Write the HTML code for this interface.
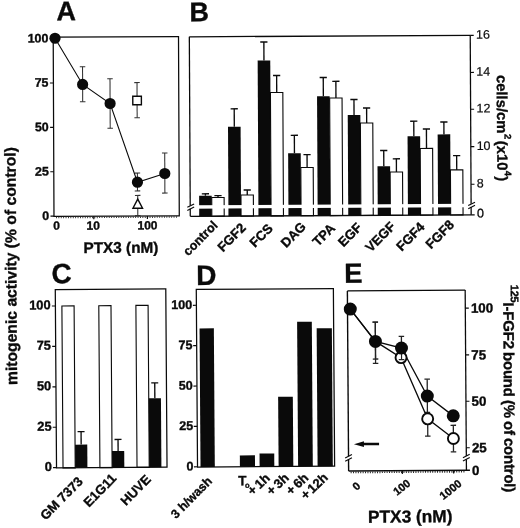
<!DOCTYPE html>
<html><head><meta charset="utf-8"><title>Figure</title>
<style>html,body{margin:0;padding:0;background:#fff;}svg{display:block;}text{font-family:"Liberation Sans",sans-serif;fill:#0a0a0a;}</style>
</head><body>
<svg width="520" height="528" viewBox="0 0 520 528" style="filter:blur(0.3px)">
<rect x="0" y="0" width="520" height="528" fill="#fff"/>
<g transform="translate(0.4 -0.3) rotate(-0.25 115 127)">
<rect x="53.2" y="37.1" width="125.3" height="179.3" fill="none" stroke="#0a0a0a" stroke-width="1.25"/>
<line x1="49.70" y1="216.20" x2="53.20" y2="216.20" stroke="#0a0a0a" stroke-width="1.17"/>
<text x="48.30" y="220.00" font-size="12.4" font-weight="bold" text-anchor="end" stroke="#0a0a0a" stroke-width="0.35">0</text>
<line x1="49.70" y1="171.80" x2="53.20" y2="171.80" stroke="#0a0a0a" stroke-width="1.17"/>
<text x="48.30" y="175.60" font-size="12.4" font-weight="bold" text-anchor="end" stroke="#0a0a0a" stroke-width="0.35">25</text>
<line x1="49.70" y1="127.40" x2="53.20" y2="127.40" stroke="#0a0a0a" stroke-width="1.17"/>
<text x="48.30" y="131.20" font-size="12.4" font-weight="bold" text-anchor="end" stroke="#0a0a0a" stroke-width="0.35">50</text>
<line x1="49.70" y1="83.00" x2="53.20" y2="83.00" stroke="#0a0a0a" stroke-width="1.17"/>
<text x="48.30" y="86.80" font-size="12.4" font-weight="bold" text-anchor="end" stroke="#0a0a0a" stroke-width="0.35">75</text>
<line x1="49.70" y1="38.60" x2="53.20" y2="38.60" stroke="#0a0a0a" stroke-width="1.17"/>
<text x="48.30" y="42.40" font-size="12.4" font-weight="bold" text-anchor="end" stroke="#0a0a0a" stroke-width="0.35">100</text>
<line x1="55.2" y1="217.6" x2="177.5" y2="217.6" stroke="#2a2a2a" stroke-width="1.5" stroke-dasharray="0.9 1.5"/>
<line x1="93.00" y1="216.40" x2="93.00" y2="219.40" stroke="#0a0a0a" stroke-width="1.17"/>
<line x1="146.60" y1="216.40" x2="146.60" y2="219.40" stroke="#0a0a0a" stroke-width="1.17"/>
<text x="55.80" y="229.90" font-size="12" font-weight="bold" text-anchor="middle" stroke="#0a0a0a" stroke-width="0.35">0</text>
<text x="92.30" y="229.90" font-size="12" font-weight="bold" text-anchor="middle" stroke="#0a0a0a" stroke-width="0.35">10</text>
<text x="146.70" y="229.90" font-size="12" font-weight="bold" text-anchor="middle" stroke="#0a0a0a" stroke-width="0.35">100</text>
<text x="120.00" y="253.10" font-size="15.3" font-weight="bold" text-anchor="middle" stroke="#0a0a0a" stroke-width="0.35">PTX3 (nM)</text>
<line x1="82.40" y1="66.90" x2="82.40" y2="101.90" stroke="#333" stroke-width="1.06"/>
<line x1="79.65" y1="66.90" x2="85.15" y2="66.90" stroke="#333" stroke-width="1.06"/>
<line x1="79.65" y1="101.90" x2="85.15" y2="101.90" stroke="#333" stroke-width="1.06"/>
<line x1="109.80" y1="79.00" x2="109.80" y2="128.60" stroke="#333" stroke-width="1.06"/>
<line x1="107.05" y1="79.00" x2="112.55" y2="79.00" stroke="#333" stroke-width="1.06"/>
<line x1="107.05" y1="128.60" x2="112.55" y2="128.60" stroke="#333" stroke-width="1.06"/>
<line x1="136.80" y1="173.50" x2="136.80" y2="191.30" stroke="#333" stroke-width="1.06"/>
<line x1="134.05" y1="173.50" x2="139.55" y2="173.50" stroke="#333" stroke-width="1.06"/>
<line x1="134.05" y1="191.30" x2="139.55" y2="191.30" stroke="#333" stroke-width="1.06"/>
<line x1="164.20" y1="153.50" x2="164.20" y2="193.60" stroke="#333" stroke-width="1.06"/>
<line x1="161.45" y1="153.50" x2="166.95" y2="153.50" stroke="#333" stroke-width="1.06"/>
<line x1="161.45" y1="193.60" x2="166.95" y2="193.60" stroke="#333" stroke-width="1.06"/>
<line x1="136.80" y1="83.00" x2="136.80" y2="118.20" stroke="#333" stroke-width="1.06"/>
<line x1="134.05" y1="83.00" x2="139.55" y2="83.00" stroke="#333" stroke-width="1.06"/>
<line x1="134.05" y1="118.20" x2="139.55" y2="118.20" stroke="#333" stroke-width="1.06"/>
<line x1="137.00" y1="195.80" x2="137.00" y2="216.00" stroke="#333" stroke-width="1.06"/>
<line x1="134.25" y1="195.80" x2="139.75" y2="195.80" stroke="#333" stroke-width="1.06"/>
<line x1="134.25" y1="216.00" x2="139.75" y2="216.00" stroke="#333" stroke-width="1.06"/>
<polyline points="55.00,38.30 82.40,84.60 109.80,103.80 136.80,182.60 164.20,174.00" fill="none" stroke="#0a0a0a" stroke-width="1.1"/>
<circle cx="55.00" cy="38.30" r="5.6" fill="#0a0a0a"/>
<circle cx="82.40" cy="84.60" r="5.6" fill="#0a0a0a"/>
<circle cx="109.80" cy="103.80" r="5.6" fill="#0a0a0a"/>
<circle cx="136.80" cy="182.60" r="5.6" fill="#0a0a0a"/>
<circle cx="164.20" cy="174.00" r="5.6" fill="#0a0a0a"/>
<rect x="132.5" y="96.60000000000001" width="8.6" height="8.6" fill="#fff" stroke="#0a0a0a" stroke-width="1.4"/>
<polygon points="137.0,199.5 132.2,208.6 141.8,208.6" fill="#fff" stroke="#0a0a0a" stroke-width="1.4" stroke-linejoin="miter"/>
<text x="56.50" y="20.40" font-size="27" font-weight="bold" text-anchor="start" stroke="#0a0a0a" stroke-width="0.35">A</text>
</g>
<g transform="rotate(-0.3 330 126)">
<line x1="205.05" y1="193.14" x2="205.05" y2="195.14" stroke="#0a0a0a" stroke-width="1.34"/>
<line x1="201.45" y1="193.14" x2="208.65" y2="193.14" stroke="#0a0a0a" stroke-width="1.34"/>
<rect x="198.75" y="195.14" width="12.60" height="20.46" fill="#0a0a0a"/>
<line x1="217.65" y1="195.01" x2="217.65" y2="196.91" stroke="#0a0a0a" stroke-width="1.34"/>
<line x1="214.05" y1="195.01" x2="221.25" y2="195.01" stroke="#0a0a0a" stroke-width="1.34"/>
<rect x="211.35" y="196.91" width="12.40" height="18.69" fill="#fff" stroke="#0a0a0a" stroke-width="1.12"/>
<line x1="234.30" y1="108.30" x2="234.30" y2="126.30" stroke="#0a0a0a" stroke-width="1.34"/>
<line x1="230.70" y1="108.30" x2="237.90" y2="108.30" stroke="#0a0a0a" stroke-width="1.34"/>
<rect x="228.00" y="126.30" width="12.60" height="89.30" fill="#0a0a0a"/>
<line x1="246.90" y1="189.57" x2="246.90" y2="194.57" stroke="#0a0a0a" stroke-width="1.34"/>
<line x1="243.30" y1="189.57" x2="250.50" y2="189.57" stroke="#0a0a0a" stroke-width="1.34"/>
<rect x="240.60" y="194.57" width="12.40" height="21.03" fill="#fff" stroke="#0a0a0a" stroke-width="1.12"/>
<line x1="264.30" y1="41.65" x2="264.30" y2="60.15" stroke="#0a0a0a" stroke-width="1.34"/>
<line x1="260.70" y1="41.65" x2="267.90" y2="41.65" stroke="#0a0a0a" stroke-width="1.34"/>
<rect x="258.00" y="60.15" width="12.60" height="155.45" fill="#0a0a0a"/>
<line x1="276.90" y1="75.22" x2="276.90" y2="92.22" stroke="#0a0a0a" stroke-width="1.34"/>
<line x1="273.30" y1="75.22" x2="280.50" y2="75.22" stroke="#0a0a0a" stroke-width="1.34"/>
<rect x="270.60" y="92.22" width="12.40" height="123.38" fill="#fff" stroke="#0a0a0a" stroke-width="1.12"/>
<line x1="294.30" y1="135.11" x2="294.30" y2="153.11" stroke="#0a0a0a" stroke-width="1.34"/>
<line x1="290.70" y1="135.11" x2="297.90" y2="135.11" stroke="#0a0a0a" stroke-width="1.34"/>
<rect x="288.00" y="153.11" width="12.60" height="62.49" fill="#0a0a0a"/>
<line x1="306.90" y1="154.48" x2="306.90" y2="167.38" stroke="#0a0a0a" stroke-width="1.34"/>
<line x1="303.30" y1="154.48" x2="310.50" y2="154.48" stroke="#0a0a0a" stroke-width="1.34"/>
<rect x="300.60" y="167.38" width="12.40" height="48.22" fill="#fff" stroke="#0a0a0a" stroke-width="1.12"/>
<line x1="323.50" y1="77.46" x2="323.50" y2="96.26" stroke="#0a0a0a" stroke-width="1.34"/>
<line x1="319.90" y1="77.46" x2="327.10" y2="77.46" stroke="#0a0a0a" stroke-width="1.34"/>
<rect x="317.20" y="96.26" width="12.60" height="119.34" fill="#0a0a0a"/>
<line x1="336.10" y1="81.33" x2="336.10" y2="98.03" stroke="#0a0a0a" stroke-width="1.34"/>
<line x1="332.50" y1="81.33" x2="339.70" y2="81.33" stroke="#0a0a0a" stroke-width="1.34"/>
<rect x="329.80" y="98.03" width="12.40" height="117.57" fill="#fff" stroke="#0a0a0a" stroke-width="1.12"/>
<line x1="354.10" y1="99.62" x2="354.10" y2="115.12" stroke="#0a0a0a" stroke-width="1.34"/>
<line x1="350.50" y1="99.62" x2="357.70" y2="99.62" stroke="#0a0a0a" stroke-width="1.34"/>
<rect x="347.80" y="115.12" width="12.60" height="100.48" fill="#0a0a0a"/>
<line x1="366.70" y1="108.19" x2="366.70" y2="123.19" stroke="#0a0a0a" stroke-width="1.34"/>
<line x1="363.10" y1="108.19" x2="370.30" y2="108.19" stroke="#0a0a0a" stroke-width="1.34"/>
<rect x="360.40" y="123.19" width="12.40" height="92.41" fill="#fff" stroke="#0a0a0a" stroke-width="1.12"/>
<line x1="383.60" y1="150.78" x2="383.60" y2="166.58" stroke="#0a0a0a" stroke-width="1.34"/>
<line x1="380.00" y1="150.78" x2="387.20" y2="150.78" stroke="#0a0a0a" stroke-width="1.34"/>
<rect x="377.30" y="166.58" width="12.60" height="49.02" fill="#0a0a0a"/>
<line x1="396.20" y1="159.15" x2="396.20" y2="172.35" stroke="#0a0a0a" stroke-width="1.34"/>
<line x1="392.60" y1="159.15" x2="399.80" y2="159.15" stroke="#0a0a0a" stroke-width="1.34"/>
<rect x="389.90" y="172.35" width="12.40" height="43.25" fill="#fff" stroke="#0a0a0a" stroke-width="1.12"/>
<line x1="413.80" y1="121.64" x2="413.80" y2="136.64" stroke="#0a0a0a" stroke-width="1.34"/>
<line x1="410.20" y1="121.64" x2="417.40" y2="121.64" stroke="#0a0a0a" stroke-width="1.34"/>
<rect x="407.50" y="136.64" width="12.60" height="78.96" fill="#0a0a0a"/>
<line x1="426.40" y1="129.51" x2="426.40" y2="148.91" stroke="#0a0a0a" stroke-width="1.34"/>
<line x1="422.80" y1="129.51" x2="430.00" y2="129.51" stroke="#0a0a0a" stroke-width="1.34"/>
<rect x="420.10" y="148.91" width="12.40" height="66.69" fill="#fff" stroke="#0a0a0a" stroke-width="1.12"/>
<line x1="443.90" y1="122.59" x2="443.90" y2="134.99" stroke="#0a0a0a" stroke-width="1.34"/>
<line x1="440.30" y1="122.59" x2="447.50" y2="122.59" stroke="#0a0a0a" stroke-width="1.34"/>
<rect x="437.60" y="134.99" width="12.60" height="80.61" fill="#0a0a0a"/>
<line x1="456.50" y1="156.26" x2="456.50" y2="170.56" stroke="#0a0a0a" stroke-width="1.34"/>
<line x1="452.90" y1="156.26" x2="460.10" y2="156.26" stroke="#0a0a0a" stroke-width="1.34"/>
<rect x="450.20" y="170.56" width="12.40" height="45.04" fill="#fff" stroke="#0a0a0a" stroke-width="1.12"/>
<rect x="191.30" y="204.50" width="278.40" height="3.40" fill="#fff"/>
<line x1="189.80" y1="36.10" x2="189.80" y2="215.60" stroke="#0a0a0a" stroke-width="1.28"/>
<line x1="189.80" y1="36.10" x2="470.70" y2="36.10" stroke="#0a0a0a" stroke-width="1.28"/>
<line x1="470.70" y1="36.10" x2="470.70" y2="215.60" stroke="#0a0a0a" stroke-width="1.28"/>
<line x1="189.80" y1="215.60" x2="474.20" y2="215.60" stroke="#0a0a0a" stroke-width="1.39"/>
<rect x="188.80" y="204.90" width="3.00" height="3.20" fill="#fff"/>
<line x1="186.90" y1="206.60" x2="193.70" y2="203.20" stroke="#0a0a0a" stroke-width="1.11"/>
<line x1="186.90" y1="209.80" x2="193.70" y2="206.40" stroke="#0a0a0a" stroke-width="1.11"/>
<rect x="469.70" y="204.60" width="3.00" height="3.20" fill="#fff"/>
<line x1="467.80" y1="206.30" x2="474.60" y2="202.90" stroke="#0a0a0a" stroke-width="1.11"/>
<line x1="467.80" y1="209.50" x2="474.60" y2="206.10" stroke="#0a0a0a" stroke-width="1.11"/>
<line x1="470.70" y1="36.10" x2="474.20" y2="36.10" stroke="#0a0a0a" stroke-width="1.17"/>
<text x="476.50" y="39.50" font-size="12.5" font-weight="normal" text-anchor="start" stroke="#0a0a0a" stroke-width="0.2">16</text>
<line x1="470.70" y1="73.20" x2="474.20" y2="73.20" stroke="#0a0a0a" stroke-width="1.17"/>
<text x="476.50" y="76.60" font-size="12.5" font-weight="normal" text-anchor="start" stroke="#0a0a0a" stroke-width="0.2">14</text>
<line x1="470.70" y1="110.00" x2="474.20" y2="110.00" stroke="#0a0a0a" stroke-width="1.17"/>
<text x="476.50" y="113.40" font-size="12.5" font-weight="normal" text-anchor="start" stroke="#0a0a0a" stroke-width="0.2">12</text>
<line x1="470.70" y1="147.30" x2="474.20" y2="147.30" stroke="#0a0a0a" stroke-width="1.17"/>
<text x="476.50" y="150.70" font-size="12.5" font-weight="normal" text-anchor="start" stroke="#0a0a0a" stroke-width="0.2">10</text>
<line x1="470.70" y1="185.00" x2="474.20" y2="185.00" stroke="#0a0a0a" stroke-width="1.17"/>
<text x="476.50" y="188.40" font-size="12.5" font-weight="normal" text-anchor="start" stroke="#0a0a0a" stroke-width="0.2">8</text>
<text x="476.50" y="218.40" font-size="12.5" font-weight="normal" text-anchor="start" stroke="#0a0a0a" stroke-width="0.3">0</text>
<text x="217.85" y="225.50" font-size="12.6" font-weight="bold" text-anchor="end" transform="rotate(-45 217.85 225.50)" stroke="#0a0a0a" stroke-width="0.35">control</text>
<text x="246.10" y="228.00" font-size="13.2" font-weight="bold" text-anchor="end" transform="rotate(-45 246.10 228.00)" stroke="#0a0a0a" stroke-width="0.35">FGF2</text>
<text x="273.10" y="229.00" font-size="13.2" font-weight="bold" text-anchor="end" transform="rotate(-45 273.10 229.00)" stroke="#0a0a0a" stroke-width="0.35">FCS</text>
<text x="306.30" y="227.30" font-size="13.2" font-weight="bold" text-anchor="end" transform="rotate(-45 306.30 227.30)" stroke="#0a0a0a" stroke-width="0.35">DAG</text>
<text x="335.30" y="229.00" font-size="13.2" font-weight="bold" text-anchor="end" transform="rotate(-45 335.30 229.00)" stroke="#0a0a0a" stroke-width="0.35">TPA</text>
<text x="362.10" y="228.50" font-size="13.2" font-weight="bold" text-anchor="end" transform="rotate(-45 362.10 228.50)" stroke="#0a0a0a" stroke-width="0.35">EGF</text>
<text x="395.60" y="227.50" font-size="13.2" font-weight="bold" text-anchor="end" transform="rotate(-45 395.60 227.50)" stroke="#0a0a0a" stroke-width="0.35">VEGF</text>
<text x="425.00" y="228.30" font-size="13.2" font-weight="bold" text-anchor="end" transform="rotate(-45 425.00 228.30)" stroke="#0a0a0a" stroke-width="0.35">FGF4</text>
<text x="454.30" y="226.30" font-size="13.2" font-weight="bold" text-anchor="end" transform="rotate(-45 454.30 226.30)" stroke="#0a0a0a" stroke-width="0.35">FGF8</text>
<text transform="translate(497.0 75.9) rotate(90)" font-size="14.8" font-weight="bold" stroke="#0a0a0a" stroke-width="0.35">cells/cm<tspan font-size="9.5" dy="-7.5" dx="0.5">2</tspan><tspan dy="7.5" dx="1.5">(x10</tspan><tspan font-size="9.5" dy="-7.5" dx="0.5">4</tspan><tspan dy="7.5" dx="0">)</tspan></text>
<text x="190.00" y="20.50" font-size="27" font-weight="bold" text-anchor="start" stroke="#0a0a0a" stroke-width="0.35">B</text>
</g>
<g transform="rotate(-0.4 111 378)">
<rect x="62.40" y="305.60" width="12.20" height="162.00" fill="#fff" stroke="#0a0a0a" stroke-width="1.12"/>
<line x1="80.70" y1="431.40" x2="80.70" y2="444.40" stroke="#0a0a0a" stroke-width="1.34"/>
<line x1="77.20" y1="431.40" x2="84.20" y2="431.40" stroke="#0a0a0a" stroke-width="1.34"/>
<rect x="74.60" y="444.40" width="12.20" height="23.20" fill="#0a0a0a"/>
<rect x="99.30" y="305.60" width="12.20" height="162.00" fill="#fff" stroke="#0a0a0a" stroke-width="1.12"/>
<line x1="117.60" y1="439.50" x2="117.60" y2="451.00" stroke="#0a0a0a" stroke-width="1.34"/>
<line x1="114.10" y1="439.50" x2="121.10" y2="439.50" stroke="#0a0a0a" stroke-width="1.34"/>
<rect x="111.50" y="451.00" width="12.20" height="16.60" fill="#0a0a0a"/>
<rect x="136.40" y="305.60" width="12.20" height="162.00" fill="#fff" stroke="#0a0a0a" stroke-width="1.12"/>
<line x1="154.70" y1="383.20" x2="154.70" y2="398.60" stroke="#0a0a0a" stroke-width="1.34"/>
<line x1="151.20" y1="383.20" x2="158.20" y2="383.20" stroke="#0a0a0a" stroke-width="1.34"/>
<rect x="148.60" y="398.60" width="12.20" height="69.00" fill="#0a0a0a"/>
<rect x="55.9" y="289.2" width="110.5" height="178.40000000000003" fill="none" stroke="#0a0a0a" stroke-width="1.25"/>
<line x1="52.40" y1="467.30" x2="55.90" y2="467.30" stroke="#0a0a0a" stroke-width="1.17"/>
<text x="51.20" y="470.60" font-size="12.9" font-weight="bold" text-anchor="end" stroke="#0a0a0a" stroke-width="0.35">0</text>
<line x1="52.40" y1="426.88" x2="55.90" y2="426.88" stroke="#0a0a0a" stroke-width="1.17"/>
<text x="51.20" y="430.18" font-size="12.9" font-weight="bold" text-anchor="end" stroke="#0a0a0a" stroke-width="0.35">25</text>
<line x1="52.40" y1="386.45" x2="55.90" y2="386.45" stroke="#0a0a0a" stroke-width="1.17"/>
<text x="51.20" y="389.75" font-size="12.9" font-weight="bold" text-anchor="end" stroke="#0a0a0a" stroke-width="0.35">50</text>
<line x1="52.40" y1="346.02" x2="55.90" y2="346.02" stroke="#0a0a0a" stroke-width="1.17"/>
<text x="51.20" y="349.32" font-size="12.9" font-weight="bold" text-anchor="end" stroke="#0a0a0a" stroke-width="0.35">75</text>
<line x1="52.40" y1="305.60" x2="55.90" y2="305.60" stroke="#0a0a0a" stroke-width="1.17"/>
<text x="51.20" y="308.90" font-size="12.9" font-weight="bold" text-anchor="end" stroke="#0a0a0a" stroke-width="0.35">100</text>
<text x="83.00" y="482.00" font-size="13.2" font-weight="bold" text-anchor="end" transform="rotate(-45 83.00 482.00)" stroke="#0a0a0a" stroke-width="0.35">GM 7373</text>
<text x="116.50" y="479.00" font-size="13.2" font-weight="bold" text-anchor="end" transform="rotate(-45 116.50 479.00)" stroke="#0a0a0a" stroke-width="0.35">E1G11</text>
<text x="151.00" y="480.50" font-size="13.2" font-weight="bold" text-anchor="end" transform="rotate(-45 151.00 480.50)" stroke="#0a0a0a" stroke-width="0.35">HUVE</text>
<text x="52.20" y="282.80" font-size="28" font-weight="bold" text-anchor="start" stroke="#0a0a0a" stroke-width="0.35">C</text>
</g>
<g transform="rotate(-0.4 265 378)">
<rect x="199.90" y="328.00" width="14.30" height="138.60" fill="#0a0a0a"/>
<rect x="239.30" y="455.30" width="15.10" height="11.30" fill="#0a0a0a"/>
<rect x="259.00" y="453.50" width="14.70" height="13.10" fill="#0a0a0a"/>
<rect x="278.00" y="396.90" width="14.70" height="69.70" fill="#0a0a0a"/>
<rect x="297.50" y="322.00" width="14.70" height="144.60" fill="#0a0a0a"/>
<rect x="317.00" y="328.60" width="15.20" height="138.00" fill="#0a0a0a"/>
<rect x="196.9" y="289.0" width="137.1" height="177.60000000000002" fill="none" stroke="#0a0a0a" stroke-width="1.25"/>
<line x1="193.40" y1="466.30" x2="196.90" y2="466.30" stroke="#0a0a0a" stroke-width="1.17"/>
<text x="192.80" y="469.90" font-size="12.6" font-weight="bold" text-anchor="end" stroke="#0a0a0a" stroke-width="0.35">0</text>
<line x1="193.40" y1="425.93" x2="196.90" y2="425.93" stroke="#0a0a0a" stroke-width="1.17"/>
<text x="192.80" y="429.53" font-size="12.6" font-weight="bold" text-anchor="end" stroke="#0a0a0a" stroke-width="0.35">25</text>
<line x1="193.40" y1="385.55" x2="196.90" y2="385.55" stroke="#0a0a0a" stroke-width="1.17"/>
<text x="192.80" y="389.15" font-size="12.6" font-weight="bold" text-anchor="end" stroke="#0a0a0a" stroke-width="0.35">50</text>
<line x1="193.40" y1="345.18" x2="196.90" y2="345.18" stroke="#0a0a0a" stroke-width="1.17"/>
<text x="192.80" y="348.78" font-size="12.6" font-weight="bold" text-anchor="end" stroke="#0a0a0a" stroke-width="0.35">75</text>
<line x1="193.40" y1="304.80" x2="196.90" y2="304.80" stroke="#0a0a0a" stroke-width="1.17"/>
<text x="192.80" y="308.40" font-size="12.6" font-weight="bold" text-anchor="end" stroke="#0a0a0a" stroke-width="0.35">100</text>
<text x="212.00" y="481.50" font-size="12.4" font-weight="bold" text-anchor="end" transform="rotate(-45 212.00 481.50)" stroke="#0a0a0a" stroke-width="0.35">3 h/wash</text>
<text x="237.6" y="485" font-size="13.5" font-weight="bold" stroke="#0a0a0a" stroke-width="0.35">T<tspan font-size="7.5" dy="2.5" dx="-1.6">o</tspan></text>
<text x="270" y="479" font-size="13" font-weight="bold" text-anchor="end" transform="rotate(-43 270 479)" stroke="#0a0a0a" stroke-width="0.35">+<tspan dx="2.2">1h</tspan></text>
<text x="289" y="479" font-size="13" font-weight="bold" text-anchor="end" transform="rotate(-43 289 479)" stroke="#0a0a0a" stroke-width="0.35">+<tspan dx="2.2">3h</tspan></text>
<text x="308.5" y="479" font-size="13" font-weight="bold" text-anchor="end" transform="rotate(-43 308.5 479)" stroke="#0a0a0a" stroke-width="0.35">+<tspan dx="2.2">6h</tspan></text>
<text x="328" y="479" font-size="13" font-weight="bold" text-anchor="end" transform="rotate(-43 328 479)" stroke="#0a0a0a" stroke-width="0.35">+<tspan dx="1.5">12h</tspan></text>
<text x="197.00" y="284.50" font-size="28" font-weight="bold" text-anchor="start" stroke="#0a0a0a" stroke-width="0.35">D</text>
</g>
<g transform="rotate(-0.4 406 380)">
<line x1="348.00" y1="290.50" x2="348.00" y2="470.70" stroke="#0a0a0a" stroke-width="1.39"/>
<line x1="348.00" y1="290.50" x2="465.80" y2="290.50" stroke="#0a0a0a" stroke-width="1.28"/>
<line x1="465.80" y1="290.50" x2="465.80" y2="470.70" stroke="#0a0a0a" stroke-width="1.28"/>
<line x1="348.00" y1="470.70" x2="469.30" y2="470.70" stroke="#0a0a0a" stroke-width="1.51"/>
<rect x="346.50" y="455.90" width="3.00" height="3.20" fill="#fff"/>
<line x1="344.60" y1="457.60" x2="351.40" y2="454.20" stroke="#0a0a0a" stroke-width="1.11"/>
<line x1="344.60" y1="460.80" x2="351.40" y2="457.40" stroke="#0a0a0a" stroke-width="1.11"/>
<rect x="464.30" y="456.40" width="3.00" height="3.20" fill="#fff"/>
<line x1="462.40" y1="458.10" x2="469.20" y2="454.70" stroke="#0a0a0a" stroke-width="1.11"/>
<line x1="462.40" y1="461.30" x2="469.20" y2="457.90" stroke="#0a0a0a" stroke-width="1.11"/>
<line x1="465.80" y1="308.50" x2="469.30" y2="308.50" stroke="#0a0a0a" stroke-width="1.17"/>
<text x="471.40" y="313.10" font-size="13.4" font-weight="bold" text-anchor="start" stroke="#0a0a0a" stroke-width="0.35">100</text>
<line x1="465.80" y1="355.30" x2="469.30" y2="355.30" stroke="#0a0a0a" stroke-width="1.17"/>
<text x="471.40" y="359.90" font-size="13.4" font-weight="bold" text-anchor="start" stroke="#0a0a0a" stroke-width="0.35">75</text>
<line x1="465.80" y1="401.70" x2="469.30" y2="401.70" stroke="#0a0a0a" stroke-width="1.17"/>
<text x="471.40" y="406.30" font-size="13.4" font-weight="bold" text-anchor="start" stroke="#0a0a0a" stroke-width="0.35">50</text>
<line x1="465.80" y1="448.20" x2="469.30" y2="448.20" stroke="#0a0a0a" stroke-width="1.17"/>
<text x="471.40" y="452.80" font-size="13.4" font-weight="bold" text-anchor="start" stroke="#0a0a0a" stroke-width="0.35">25</text>
<text x="471.40" y="475.40" font-size="13.4" font-weight="bold" text-anchor="start" stroke="#0a0a0a" stroke-width="0.35">0</text>
<line x1="350.0" y1="472.09999999999997" x2="464.8" y2="472.09999999999997" stroke="#222" stroke-width="1.7" stroke-dasharray="1.0 1.4"/>
<line x1="401.70" y1="470.70" x2="401.70" y2="473.90" stroke="#0a0a0a" stroke-width="1.17"/>
<line x1="453.00" y1="470.70" x2="453.00" y2="473.90" stroke="#0a0a0a" stroke-width="1.17"/>
<line x1="375.70" y1="322.00" x2="375.70" y2="363.20" stroke="#222" stroke-width="1.28"/>
<line x1="372.95" y1="322.00" x2="378.45" y2="322.00" stroke="#222" stroke-width="1.28"/>
<line x1="372.95" y1="363.20" x2="378.45" y2="363.20" stroke="#222" stroke-width="1.28"/>
<line x1="375.70" y1="322.00" x2="375.70" y2="358.80" stroke="#222" stroke-width="1.28"/>
<line x1="372.95" y1="322.00" x2="378.45" y2="322.00" stroke="#222" stroke-width="1.28"/>
<line x1="372.95" y1="358.80" x2="378.45" y2="358.80" stroke="#222" stroke-width="1.28"/>
<line x1="401.70" y1="336.30" x2="401.70" y2="348.00" stroke="#222" stroke-width="1.28"/>
<line x1="398.95" y1="336.30" x2="404.45" y2="336.30" stroke="#222" stroke-width="1.28"/>
<line x1="398.95" y1="348.00" x2="404.45" y2="348.00" stroke="#222" stroke-width="1.28"/>
<line x1="427.20" y1="379.30" x2="427.20" y2="412.50" stroke="#222" stroke-width="1.28"/>
<line x1="424.45" y1="379.30" x2="429.95" y2="379.30" stroke="#222" stroke-width="1.28"/>
<line x1="424.45" y1="412.50" x2="429.95" y2="412.50" stroke="#222" stroke-width="1.28"/>
<line x1="427.40" y1="419.00" x2="427.40" y2="436.30" stroke="#222" stroke-width="1.28"/>
<line x1="424.65" y1="419.00" x2="430.15" y2="419.00" stroke="#222" stroke-width="1.28"/>
<line x1="424.65" y1="436.30" x2="430.15" y2="436.30" stroke="#222" stroke-width="1.28"/>
<line x1="453.00" y1="425.60" x2="453.00" y2="452.20" stroke="#222" stroke-width="1.28"/>
<line x1="450.25" y1="425.60" x2="455.75" y2="425.60" stroke="#222" stroke-width="1.28"/>
<line x1="450.25" y1="452.20" x2="455.75" y2="452.20" stroke="#222" stroke-width="1.28"/>
<polyline points="350.80,308.70 375.70,341.20 401.20,357.60 427.40,419.00 453.00,438.80" fill="none" stroke="#0a0a0a" stroke-width="1.3"/>
<polyline points="350.80,308.70 375.70,341.20 401.70,348.00 427.20,396.20 453.00,416.20" fill="none" stroke="#0a0a0a" stroke-width="1.3"/>
<circle cx="401.20" cy="357.60" r="5.5" fill="#fff" stroke="#0a0a0a" stroke-width="1.9"/>
<circle cx="427.40" cy="419.00" r="5.5" fill="#fff" stroke="#0a0a0a" stroke-width="1.9"/>
<circle cx="453.00" cy="438.80" r="5.5" fill="#fff" stroke="#0a0a0a" stroke-width="1.9"/>
<line x1="401.70" y1="352.00" x2="401.70" y2="359.60" stroke="#222" stroke-width="1.17"/>
<line x1="398.90" y1="359.60" x2="404.50" y2="359.60" stroke="#222" stroke-width="1.17"/>
<circle cx="350.80" cy="308.70" r="6.5" fill="#0a0a0a"/>
<circle cx="375.70" cy="341.20" r="6.5" fill="#0a0a0a"/>
<circle cx="401.70" cy="348.00" r="6.5" fill="#0a0a0a"/>
<circle cx="427.20" cy="396.20" r="6.5" fill="#0a0a0a"/>
<circle cx="453.00" cy="416.20" r="6.5" fill="#0a0a0a"/>
<line x1="361.00" y1="443.80" x2="378.60" y2="443.80" stroke="#0a0a0a" stroke-width="2.51"/>
<polygon points="353.5,443.8 363.5,441.0 363.5,446.6" fill="#0a0a0a"/>
<text x="360.50" y="486.50" font-size="11" font-weight="bold" text-anchor="end" transform="rotate(-43 360.50 486.50)" stroke="#0a0a0a" stroke-width="0.35">0</text>
<text x="410.60" y="484.60" font-size="11" font-weight="bold" text-anchor="end" transform="rotate(-38.5 410.60 484.60)" stroke="#0a0a0a" stroke-width="0.35">100</text>
<text x="461.70" y="485.30" font-size="11" font-weight="bold" text-anchor="end" transform="rotate(-38.5 461.70 485.30)" stroke="#0a0a0a" stroke-width="0.35">1000</text>
<text x="409.30" y="522.40" font-size="17.3" font-weight="bold" text-anchor="middle" stroke="#0a0a0a" stroke-width="0.35">PTX3 (nM)</text>
<text transform="translate(503.8 285.5) rotate(90)" font-size="15" font-weight="bold" word-spacing="-0.8" textLength="207.5" lengthAdjust="spacing" stroke="#0a0a0a" stroke-width="0.35"><tspan font-size="11" dy="-7.5">125</tspan><tspan dy="7.5">I-FGF2 bound (% of control)</tspan></text>
<text x="345.00" y="282.40" font-size="27.5" font-weight="bold" text-anchor="start" stroke="#0a0a0a" stroke-width="0.35">E</text>
</g>
<text transform="translate(16.3 266.1) rotate(-90.4)" font-size="15.7" font-weight="bold" text-anchor="middle" stroke="#0a0a0a" stroke-width="0.35">mitogenic activity (% of control)</text>
</svg></body></html>
